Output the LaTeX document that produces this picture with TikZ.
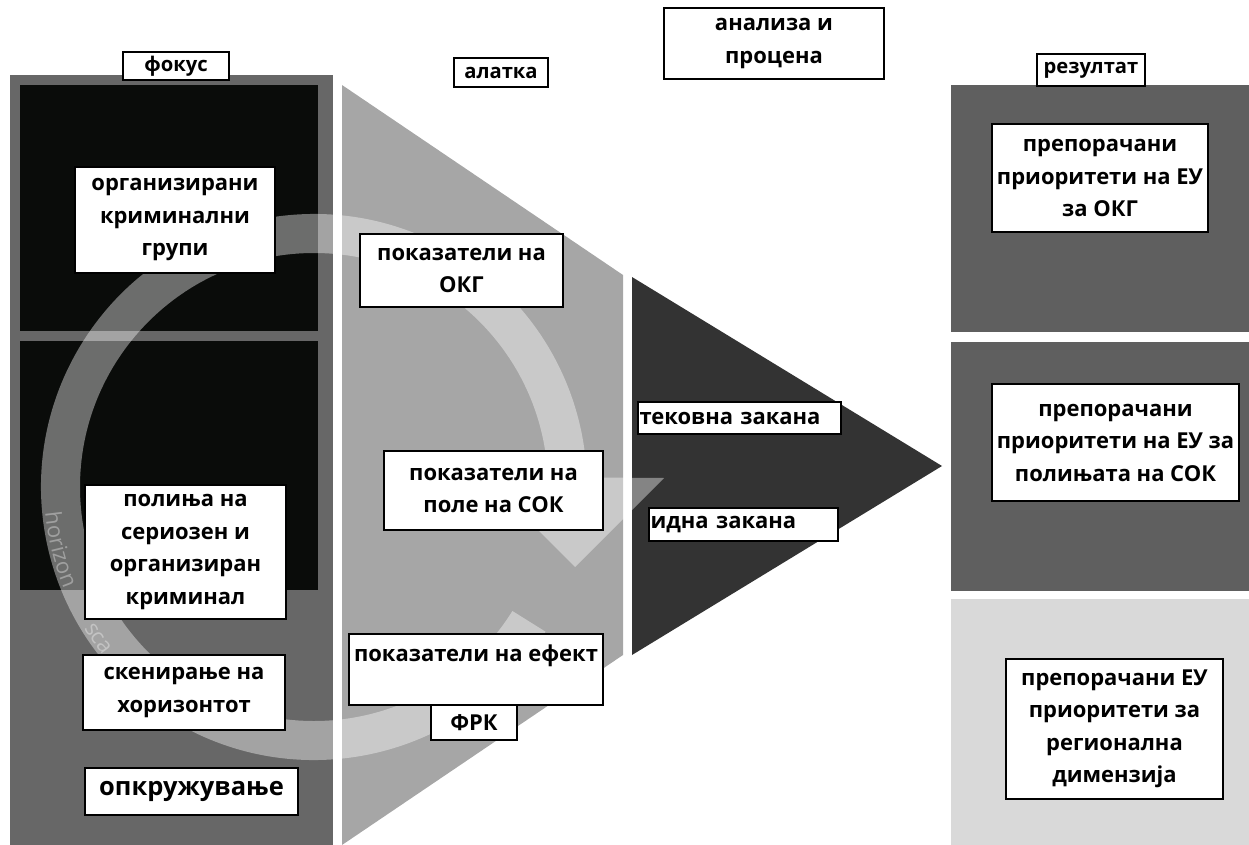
\documentclass[tikz,border=0pt]{standalone}
\usepackage{fontspec}
\setmainfont{Open Sans}
\usepackage{tikz}
\usetikzlibrary{calc,decorations.text}

\definecolor{focusgray}{HTML}{676767}
\definecolor{nearblack}{HTML}{0A0C0A}
\definecolor{toolgray}{HTML}{A6A6A6}
\definecolor{threatgray}{HTML}{333333}
\definecolor{resultgray}{HTML}{5F5F5F}
\definecolor{regiongray}{HTML}{D9D9D9}

\tikzset{
	lbox/.style={draw=black, line width=0.9pt, fill=white, align=center, inner sep=1pt,
		font=\bfseries\fontsize{12.5}{18.5}\selectfont},
	tagbox/.style={lbox, font=\bfseries\fontsize{11.5}{13}\selectfont},
	leftbox/.style={lbox, anchor=west, align=left, inner xsep=1pt},
	marktext/.style={decorate, decoration={text along path, text color=white,
		text={|\fontsize{12.5}{12.5}\selectfont|#1}}}
}

\begin{document}
\begin{tikzpicture}[x=0.02cm, y=-0.02cm]
			\useasboundingbox (0,0) rectangle (1249,845);
			\coordinate (ringc) at (314,487);
			% focus column
			\fill[focusgray] (10,75) rectangle (333,845);
			\fill[nearblack] (20,85) rectangle (318,331);
			\fill[nearblack] (20,341) rectangle (318,590);
			% tool trapezoid and threat triangle
			\fill[toolgray] (342,85) -- (623,275) -- (623,655) -- (342,845) -- cycle;
			\fill[threatgray] (632,277) -- (942,466) -- (632,655) -- cycle;
			% result column
			\fill[resultgray] (951,85) rectangle (1249,332);
			\fill[resultgray] (951,342) rectangle (1249,591);
			\fill[regiongray] (951,599) rectangle (1249,845);
			% cycle arrow (watermark)
			\fill[white, fill opacity=0.4] ($(ringc)+(32:273)$) arc[start angle=32, end angle=358, radius=273]
				-- (664,478) -- (575,567) -- (486,478)
				-- ($(ringc)+(358:234)$) arc[start angle=358, end angle=32, radius=234] -- cycle;
			\begin{scope}[fill opacity=0.35]
			\path[marktext=horizon] ($(ringc)+(174.5:270)$) arc[start angle=174.5, end angle=150, radius=270];
			\path[marktext=sca] ($(ringc)+(148.5:270)$) arc[start angle=148.5, end angle=136, radius=270];
			\end{scope}
			% headings
			\node[tagbox, minimum width=2.12cm, minimum height=0.56cm] (focus) at (176,66) {фокус};
			\node[tagbox, minimum width=1.88cm, minimum height=0.58cm] (tool) at (501,72.5) {алатка};
			\node[lbox, minimum width=4.4cm, minimum height=1.42cm] (analysis) at (774,43.5) {анализа и\\процена};
			\node[tagbox, minimum width=2.16cm, minimum height=0.64cm] (result) at (1091,70) {резултат};
			% focus boxes
			\node[lbox, minimum width=4.0cm, minimum height=2.12cm] (ocg) at (175,220) {организирани\\криминални\\групи};
			\node[lbox, minimum width=4.02cm, minimum height=2.68cm] (soc) at (185.5,552) {полиња на\\сериозен и\\организиран\\криминал};
			\node[lbox, minimum width=4.04cm, minimum height=1.5cm] (scan) at (184,692.5) {скенирање на\\хоризонтот};
			\node[lbox, minimum width=4.26cm, minimum height=0.94cm, font=\bfseries\fontsize{14.5}{17}\selectfont] (env) at (191.5,791.5) {опкружување};
			% tool boxes
			\node[lbox, minimum width=4.06cm, minimum height=1.46cm] (indocg) at (461.5,270.5) {показатели на\\ОКГ};
			\node[lbox, minimum width=4.38cm, minimum height=1.58cm] (indsoc) at (493.5,490.5) {показатели на\\поле на СОК};
			\node[lbox, minimum width=5.08cm, minimum height=1.42cm] (indeff) at (476,669.5) {показатели на ефект\\\mbox{}};
			\node[lbox, minimum width=1.72cm, minimum height=0.7cm] (frk) at (474,722.5) {ФРК};
			% threats
			\node[leftbox, text width=4.0cm, minimum height=0.64cm] (current) at (637,418) {тековна закана};
			\node[leftbox, text width=3.72cm, minimum height=0.66cm] (future) at (648,524.5) {идна закана};
			% results
			\node[lbox, minimum width=4.32cm, minimum height=2.16cm] (resocg) at (1100,178) {препорачани\\приоритети на ЕУ\\за ОКГ};
			\node[lbox, minimum width=4.94cm, minimum height=2.34cm] (ressoc) at (1115.5,442.5) {препорачани\\приоритети на ЕУ за\\полињата на СОК};
			\node[lbox, minimum width=4.34cm, minimum height=2.8cm] (resreg) at (1114.5,729) {препорачани ЕУ\\приоритети за\\регионална\\димензија};
\end{tikzpicture}
\end{document}
